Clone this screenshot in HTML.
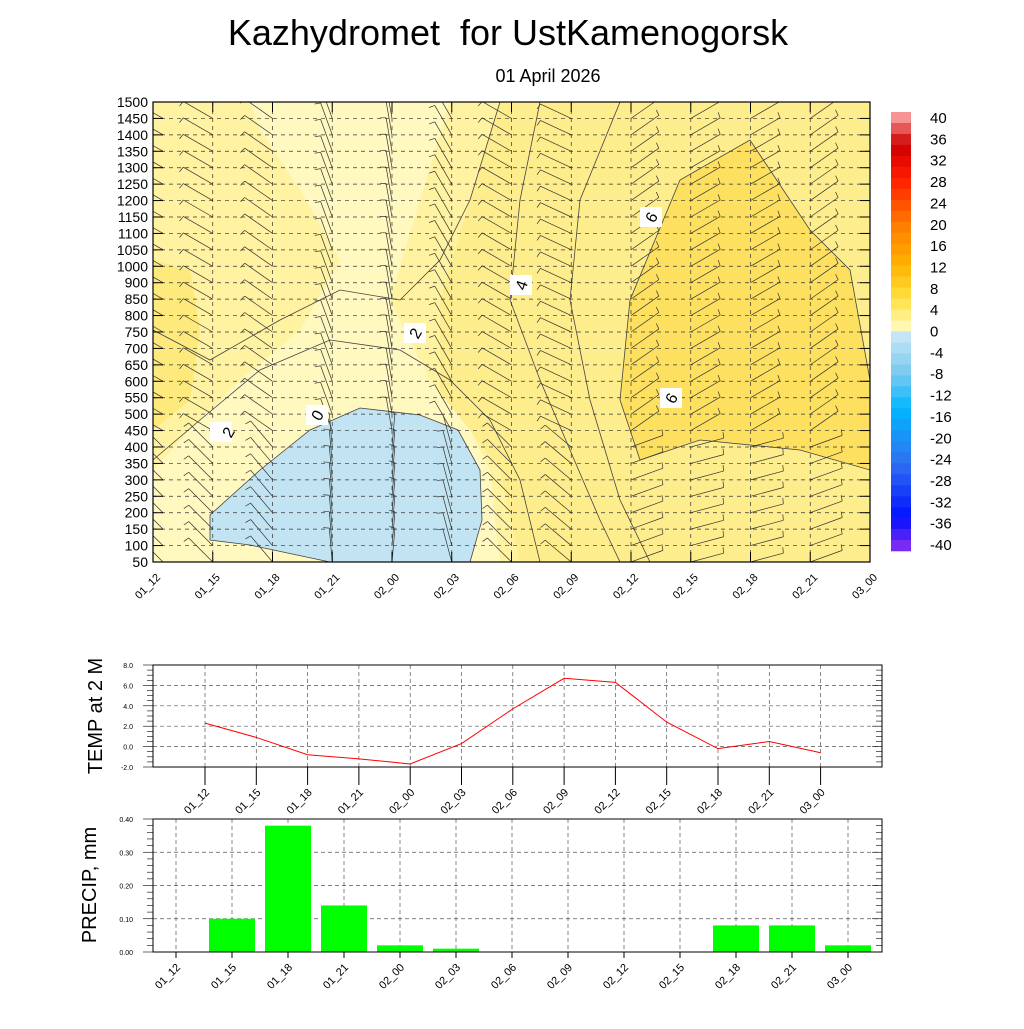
<!DOCTYPE html>
<html><head><meta charset="utf-8"><style>
body{margin:0;background:#fff;font-family:"Liberation Sans",sans-serif}
svg text{font-family:"Liberation Sans",sans-serif}
</style></head><body>
<svg id="s" width="1024" height="1024" viewBox="0 0 1024 1024" xmlns="http://www.w3.org/2000/svg">
<rect width="1024" height="1024" fill="#fff"/>
<text x="508" y="45" font-size="36" text-anchor="middle">Kazhydromet&#160; for UstKamenogorsk</text>
<text x="548" y="82" font-size="18" text-anchor="middle">01 April 2026</text>
<g id="main">
<clipPath id="cp"><rect x="153" y="102" width="717" height="460"/></clipPath>
<g clip-path="url(#cp)">
<rect x="153" y="102" width="717" height="460" fill="#feed8c"/>
<polygon points="153,102 500,102 470,200 440,300 440,400 470,430 500,470 520,562 153,562" fill="#fff2a0"/>
<polygon points="250,102 450,102 420,200 390,300 430,380 470,430 490,470 500,562 153,562 153,470 190,430 240,380 300,330 340,260 300,190 260,130" fill="#fff8bf"/>
<polygon points="210,515 260,470 310,430 360,408 420,415 458,430 480,470 482,520 470,562 330,562 250,545 210,540" fill="#c2e4f2" stroke="#444" stroke-width="0.8"/>
<polygon points="153,260 190,270 200,330 190,400 153,430" fill="#feea7c"/>
<polygon points="630,300 680,180 750,140 810,230 850,270 870,380 870,470 800,450 700,440 640,460 620,400" fill="#fde060" stroke="#444" stroke-width="0.8"/>
<polyline points="153,330 210,360 280,320 340,290 400,300 440,260 470,200 500,102" fill="none" stroke="#444" stroke-width="0.8"/>
<polyline points="153,460 200,420 260,370 330,340 400,350 450,380 490,420 520,480 540,562" fill="none" stroke="#444" stroke-width="0.8"/>
<polyline points="540,102 520,200 510,300 540,380 570,450 600,520 620,562" fill="none" stroke="#444" stroke-width="0.8"/>
<polyline points="620,102 580,200 570,300 590,400 620,500 650,562" fill="none" stroke="#444" stroke-width="0.8"/>
</g>
<g id="barbs" clip-path="url(#cp)"></g>
<g id="mgrid"></g>
<rect x="153" y="102" width="717" height="460" fill="none" stroke="#000" stroke-width="1.2"/>
<g font-size="16"><rect x="210" y="422" width="22" height="20" fill="#fff"/><text x="228" y="438" transform="rotate(-60 228 432)" text-anchor="middle">2</text>
<rect x="306" y="405" width="22" height="20" fill="#fff"/><text x="317" y="421" text-anchor="middle" transform="rotate(-60 317 415)">0</text>
<rect x="404" y="323" width="22" height="20" fill="#fff"/><text x="415" y="339" text-anchor="middle" transform="rotate(-60 415 333)">2</text>
<rect x="510" y="275" width="22" height="20" fill="#fff"/><text x="521" y="291" text-anchor="middle" transform="rotate(-70 521 285)">4</text>
<rect x="640" y="207" width="22" height="20" fill="#fff"/><text x="651" y="223" text-anchor="middle" transform="rotate(-60 651 217)">6</text>
<rect x="660" y="388" width="22" height="20" fill="#fff"/><text x="671" y="404" text-anchor="middle" transform="rotate(-60 671 398)">6</text></g>
</g>
<g id="cbar"></g>
<g id="temp"></g>
<g id="prec"></g>
</svg>
<script>
const NS="http://www.w3.org/2000/svg";
function el(p,t,a){const e=document.createElementNS(NS,t);for(const k in a)e.setAttribute(k,a[k]);p.appendChild(e);return e;}
const times=["01_12","01_15","01_18","01_21","02_00","02_03","02_06","02_09","02_12","02_15","02_18","02_21","03_00"];
const levels=[1500,1450,1400,1350,1300,1250,1200,1150,1100,1050,1000,900,850,800,750,700,650,600,550,500,450,400,350,300,250,200,150,100,50];
const tempVals=[2.3,0.9,-0.8,-1.2,-1.7,0.3,3.7,6.7,6.3,2.4,-0.2,0.5,-0.6];
const tempTicks=[-2,0,2,4,6,8];
const precVals=[0,0.10,0.38,0.14,0.02,0.01,0,0,0,0,0.08,0.08,0.02];
const precTicks=[0,0.1,0.2,0.3,0.4];
const cbLabels=[40,36,32,28,24,20,16,12,8,4,0,-4,-8,-12,-16,-20,-24,-28,-32,-36,-40];
const windDir=[150,150,145,110,100,120,150,155,35,30,30,35,35];
const s=document.getElementById('s');
const mg=document.getElementById('mgrid'), main=document.getElementById('main');
const mx=i=>153+i*(717/12), my=i=>102+i*(460/28);
levels.forEach((l,i)=>{const y=my(i);
 if(i>0&&i<28) el(mg,'line',{x1:153,x2:870,y1:y,y2:y,stroke:'#333','stroke-dasharray':'4,4','stroke-width':0.7});
 el(mg,'line',{x1:153,x2:163,y1:y,y2:y,stroke:'#000'});el(mg,'line',{x1:860,x2:870,y1:y,y2:y,stroke:'#000'});
 const t=el(main,'text',{x:148,y:y+5,'font-size':14,'text-anchor':'end'});t.textContent=l;
 
 
});
times.forEach((tm,i)=>{const x=mx(i);
 if(i>0&&i<12) el(mg,'line',{x1:x,x2:x,y1:102,y2:562,stroke:'#333','stroke-dasharray':'4,4','stroke-width':0.7});
 el(mg,'line',{x1:x,x2:x,y1:102,y2:112,stroke:'#000'});el(mg,'line',{x1:x,x2:x,y1:552,y2:562,stroke:'#000'});
 const t=el(main,'text',{x:x+8,y:578,'font-size':11,'text-anchor':'end',transform:`rotate(-45 ${x+8} 578)`});t.textContent=tm;
 
 
});
const bg=document.getElementById('barbs');
for(let i=0;i<13;i++)for(let j=0;j<29;j+=1){
 const x=mx(i)+(i===0?10:0),y=my(j);const a=(windDir[i]+(j>20?-15:0))*Math.PI/180;const L=34;
 const x2=x+L*Math.cos(a),y2=y-L*Math.sin(a);
 el(bg,'line',{x1:x,y1:y,x2:x2,y2:y2,stroke:'#333','stroke-width':0.7});
 el(bg,'line',{x1:x2,y1:y2,x2:x2+6*Math.cos(a+1.4),y2:y2-6*Math.sin(a+1.4),stroke:'#333','stroke-width':0.7});
}
const cb=document.getElementById('cbar');
const keys=[[40,'#ffb0b0'],[34,'#cc0000'],[28,'#ff1a00'],[20,'#ff7700'],[12,'#ffb400'],[6,'#ffe040'],[0.01,'#fffcc8'],[0,'#cfe9f7'],[-8,'#75c8ef'],[-14,'#00b8ff'],[-24,'#3070f0'],[-34,'#0010ff'],[-40,'#9030f0']];
function hex(c){return [1,3,5].map(k=>parseInt(c.substr(k,2),16));}
function col(v){for(let k=0;k<keys.length-1;k++){const [a,ca]=keys[k],[b,cb2]=keys[k+1];if(v<=a&&v>=b){const f=(a-v)/(a-b||1);const A=hex(ca),B=hex(cb2);return `rgb(${A.map((q,n)=>Math.round(q+(B[n]-q)*f)).join(',')})`;}}return '#fff';}
const cbTop=112,cbBot=551,nb=40,bh=(cbBot-cbTop)/nb;
for(let k=0;k<nb;k++){const v=40-(k+0.5)*2;el(cb,'rect',{x:891,y:cbTop+k*bh,width:20,height:bh+0.3,fill:col(v)});}
cbLabels.forEach((l,i)=>{const t=el(cb,'text',{x:930,y:cbTop+6+i*((cbBot-cbTop-12)/20)+5,'font-size':15});t.textContent=l;
 
 });
const tg=document.getElementById('temp');
const tx=i=>205+i*51.3, ty=v=>767-(v+2)*10.2;
tempTicks.forEach(v=>{const y=ty(v);
 if(v>-2&&v<8) el(tg,'line',{x1:153,x2:882,y1:y,y2:y,stroke:'#555','stroke-dasharray':'4,3','stroke-width':0.7});
 const t=el(tg,'text',{x:133,y:y+3,'font-size':7,'text-anchor':'end'});t.textContent=v.toFixed(1);
 
 });
for(let v=-2;v<=8;v+=0.5){const y=ty(v);const w=(v%2===0)?10:6;el(tg,'line',{x1:153-w,x2:153,y1:y,y2:y,stroke:'#000','stroke-width':0.6});el(tg,'line',{x1:882,x2:882-w,y1:y,y2:y,stroke:'#000','stroke-width':0.6});}
times.forEach((tm,i)=>{const x=tx(i);
 el(tg,'line',{x1:x,x2:x,y1:665,y2:767,stroke:'#555','stroke-dasharray':'4,3','stroke-width':0.7});
 el(tg,'line',{x1:x,x2:x,y1:767,y2:785,stroke:'#000'});
 const t=el(tg,'text',{x:x+5,y:793,'font-size':11,'text-anchor':'end',transform:`rotate(-45 ${x+5} 793)`});t.textContent=tm;
 
 });
el(tg,'rect',{x:153,y:665,width:729,height:102,fill:'none',stroke:'#000'});
const tl=el(tg,'polyline',{points:tempVals.map((v,i)=>tx(i)+','+ty(v)).join(' '),fill:'none',stroke:'#f00','stroke-width':1});


const tt=el(tg,'text',{x:102,y:716,'font-size':20,'text-anchor':'middle',transform:'rotate(-90 102 716)'});tt.textContent='TEMP at 2 M';


const pg=document.getElementById('prec');
const px=i=>176+i*56, py=v=>952-v*332.5;
precTicks.forEach(v=>{const y=py(v);
 if(v>0&&v<0.4) el(pg,'line',{x1:153,x2:882,y1:y,y2:y,stroke:'#555','stroke-dasharray':'4,3','stroke-width':0.7});
 const t=el(pg,'text',{x:133,y:y+3,'font-size':7,'text-anchor':'end'});t.textContent=v.toFixed(2);
 
 });
for(let v=0;v<=0.4001;v+=0.02){const y=py(v);const w=(Math.round(v*100)%10===0)?10:6;el(pg,'line',{x1:153-w,x2:153,y1:y,y2:y,stroke:'#000','stroke-width':0.6});el(pg,'line',{x1:882,x2:882-w,y1:y,y2:y,stroke:'#000','stroke-width':0.6});}
times.forEach((tm,i)=>{const x=px(i);
 el(pg,'line',{x1:x,x2:x,y1:819,y2:952,stroke:'#555','stroke-dasharray':'4,3','stroke-width':0.7});
 const b=el(pg,'rect',{x:x-23,y:py(precVals[i]),width:46,height:952-py(precVals[i]),fill:'#00ff00'});
 
 
 el(pg,'line',{x1:x,x2:x,y1:952,y2:958,stroke:'#000'});
 const t=el(pg,'text',{x:x+5,y:968,'font-size':11,'text-anchor':'end',transform:`rotate(-45 ${x+5} 968)`});t.textContent=tm;
 
 });
el(pg,'rect',{x:153,y:819,width:729,height:133,fill:'none',stroke:'#000'});
const pt=el(pg,'text',{x:96,y:885,'font-size':20,'text-anchor':'middle',transform:'rotate(-90 96 885)'});pt.textContent='PRECIP, mm';


</script>
</body></html>
